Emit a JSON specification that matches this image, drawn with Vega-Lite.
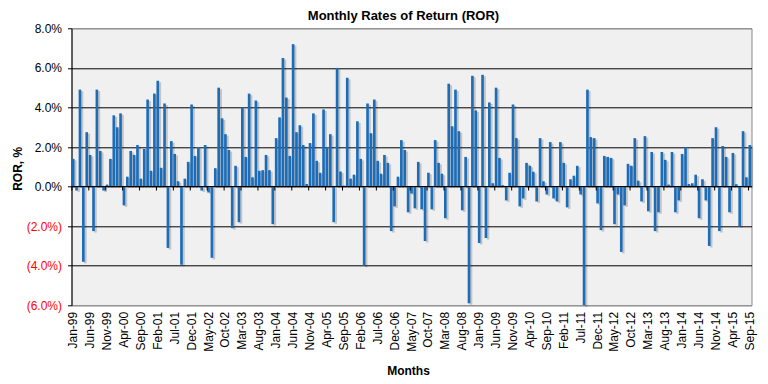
{
  "$schema": "https://vega.github.io/schema/vega-lite/v6.json",
  "width": 680,
  "height": 277,
  "autosize": {"type": "none"},
  "padding": {"left": 71.5, "top": 28.3, "right": 16.5, "bottom": 78.7},
  "background": "white",
  "title": {"text": "Monthly Rates of Return (ROR)", "font": "Liberation Sans", "fontSize": 13, "fontWeight": "bold", "color": "black", "anchor": "middle", "frame": "group", "dx": -8, "dy": 23, "offset": 9, "baseline": "bottom"},
  "config": {"view": {"fill": "#f0f0f0", "stroke": "#8a8a8a"}, "font": "Liberation Sans"},
  "data": {"values": [
    {"m":"Jan-99","i":0,"v":1.4},{"m":"Feb-99","i":1,"v":-0.2},{"m":"Mar-99","i":2,"v":4.9},{"m":"Apr-99","i":3,"v":-3.8},{"m":"May-99","i":4,"v":2.75},
    {"m":"Jun-99","i":5,"v":1.6},{"m":"Jul-99","i":6,"v":-2.25},{"m":"Aug-99","i":7,"v":4.9},{"m":"Sep-99","i":8,"v":1.8},{"m":"Oct-99","i":9,"v":-0.2},
    {"m":"Nov-99","i":10,"v":0.1},{"m":"Dec-99","i":11,"v":1.4},{"m":"Jan-00","i":12,"v":3.6},{"m":"Feb-00","i":13,"v":3.0},{"m":"Mar-00","i":14,"v":3.7},
    {"m":"Apr-00","i":15,"v":-0.95},{"m":"May-00","i":16,"v":0.5},{"m":"Jun-00","i":17,"v":1.8},{"m":"Jul-00","i":18,"v":1.6},{"m":"Aug-00","i":19,"v":2.1},
    {"m":"Sep-00","i":20,"v":0.4},{"m":"Oct-00","i":21,"v":1.9},{"m":"Nov-00","i":22,"v":4.4},{"m":"Dec-00","i":23,"v":0.8},{"m":"Jan-01","i":24,"v":4.7},
    {"m":"Feb-01","i":25,"v":5.35},{"m":"Mar-01","i":26,"v":0.95},{"m":"Apr-01","i":27,"v":4.2},{"m":"May-01","i":28,"v":-3.1},{"m":"Jun-01","i":29,"v":2.3},
    {"m":"Jul-01","i":30,"v":1.65},{"m":"Aug-01","i":31,"v":0.27},{"m":"Sep-01","i":32,"v":-3.95},{"m":"Oct-01","i":33,"v":0.4},{"m":"Nov-01","i":34,"v":1.25},
    {"m":"Dec-01","i":35,"v":4.15},{"m":"Jan-02","i":36,"v":1.55},{"m":"Feb-02","i":37,"v":2.0},{"m":"Mar-02","i":38,"v":-0.2},{"m":"Apr-02","i":39,"v":2.1},
    {"m":"May-02","i":40,"v":-0.3},{"m":"Jun-02","i":41,"v":-3.6},{"m":"Jul-02","i":42,"v":0.93},{"m":"Aug-02","i":43,"v":5.0},{"m":"Sep-02","i":44,"v":3.45},
    {"m":"Oct-02","i":45,"v":2.65},{"m":"Nov-02","i":46,"v":1.85},{"m":"Dec-02","i":47,"v":-2.1},{"m":"Jan-03","i":48,"v":1.05},{"m":"Feb-03","i":49,"v":-1.8},
    {"m":"Mar-03","i":50,"v":4.0},{"m":"Apr-03","i":51,"v":1.5},{"m":"May-03","i":52,"v":4.7},{"m":"Jun-03","i":53,"v":0.47},{"m":"Jul-03","i":54,"v":4.35},
    {"m":"Aug-03","i":55,"v":0.8},{"m":"Sep-03","i":56,"v":0.83},{"m":"Oct-03","i":57,"v":1.6},{"m":"Nov-03","i":58,"v":0.83},{"m":"Dec-03","i":59,"v":-1.9},
    {"m":"Jan-04","i":60,"v":2.45},{"m":"Feb-04","i":61,"v":3.5},{"m":"Mar-04","i":62,"v":6.5},{"m":"Apr-04","i":63,"v":4.5},{"m":"May-04","i":64,"v":1.55},
    {"m":"Jun-04","i":65,"v":7.2},{"m":"Jul-04","i":66,"v":2.75},{"m":"Aug-04","i":67,"v":3.1},{"m":"Sep-04","i":68,"v":2.1},{"m":"Oct-04","i":69,"v":0.13},
    {"m":"Nov-04","i":70,"v":2.2},{"m":"Dec-04","i":71,"v":3.7},{"m":"Jan-05","i":72,"v":1.3},{"m":"Feb-05","i":73,"v":0.7},{"m":"Mar-05","i":74,"v":3.9},
    {"m":"Apr-05","i":75,"v":2.0},{"m":"May-05","i":76,"v":2.65},{"m":"Jun-05","i":77,"v":-1.8},{"m":"Jul-05","i":78,"v":6.0},{"m":"Aug-05","i":79,"v":0.76},
    {"m":"Sep-05","i":80,"v":0.05},{"m":"Oct-05","i":81,"v":5.5},{"m":"Nov-05","i":82,"v":0.4},{"m":"Dec-05","i":83,"v":0.6},{"m":"Jan-06","i":84,"v":3.3},
    {"m":"Feb-06","i":85,"v":1.4},{"m":"Mar-06","i":86,"v":-4.0},{"m":"Apr-06","i":87,"v":4.2},{"m":"May-06","i":88,"v":2.7},{"m":"Jun-06","i":89,"v":4.4},
    {"m":"Jul-06","i":90,"v":1.3},{"m":"Aug-06","i":91,"v":0.65},{"m":"Sep-06","i":92,"v":1.6},{"m":"Oct-06","i":93,"v":1.2},{"m":"Nov-06","i":94,"v":-2.25},
    {"m":"Dec-06","i":95,"v":-1.0},{"m":"Jan-07","i":96,"v":0.5},{"m":"Feb-07","i":97,"v":2.35},{"m":"Mar-07","i":98,"v":1.85},{"m":"Apr-07","i":99,"v":-1.3},
    {"m":"May-07","i":100,"v":-0.35},{"m":"Jun-07","i":101,"v":-1.1},{"m":"Jul-07","i":102,"v":1.25},{"m":"Aug-07","i":103,"v":-1.15},{"m":"Sep-07","i":104,"v":-2.75},
    {"m":"Oct-07","i":105,"v":0.7},{"m":"Nov-07","i":106,"v":-1.15},{"m":"Dec-07","i":107,"v":2.35},{"m":"Jan-08","i":108,"v":1.2},{"m":"Feb-08","i":109,"v":0.65},
    {"m":"Mar-08","i":110,"v":-1.6},{"m":"Apr-08","i":111,"v":5.2},{"m":"May-08","i":112,"v":3.05},{"m":"Jun-08","i":113,"v":4.9},{"m":"Jul-08","i":114,"v":2.8},
    {"m":"Aug-08","i":115,"v":-1.2},{"m":"Sep-08","i":116,"v":1.5},{"m":"Oct-08","i":117,"v":-5.9},{"m":"Nov-08","i":118,"v":5.6},{"m":"Dec-08","i":119,"v":3.85},
    {"m":"Jan-09","i":120,"v":-2.85},{"m":"Feb-09","i":121,"v":5.65},{"m":"Mar-09","i":122,"v":-2.6},{"m":"Apr-09","i":123,"v":4.25},{"m":"May-09","i":124,"v":0.17},
    {"m":"Jun-09","i":125,"v":5.0},{"m":"Jul-09","i":126,"v":1.45},{"m":"Aug-09","i":127,"v":0.07},{"m":"Sep-09","i":128,"v":-0.7},{"m":"Oct-09","i":129,"v":0.7},
    {"m":"Nov-09","i":130,"v":4.15},{"m":"Dec-09","i":131,"v":2.45},{"m":"Jan-10","i":132,"v":-1.0},{"m":"Feb-10","i":133,"v":-0.6},{"m":"Mar-10","i":134,"v":1.2},
    {"m":"Apr-10","i":135,"v":1.05},{"m":"May-10","i":136,"v":0.75},{"m":"Jun-10","i":137,"v":-0.75},{"m":"Jul-10","i":138,"v":2.45},{"m":"Aug-10","i":139,"v":0.27},
    {"m":"Sep-10","i":140,"v":-0.4},{"m":"Oct-10","i":141,"v":2.25},{"m":"Nov-10","i":142,"v":-0.6},{"m":"Dec-10","i":143,"v":-0.75},{"m":"Jan-11","i":144,"v":2.25},
    {"m":"Feb-11","i":145,"v":1.2},{"m":"Mar-11","i":146,"v":-1.05},{"m":"Apr-11","i":147,"v":0.37},{"m":"May-11","i":148,"v":0.55},{"m":"Jun-11","i":149,"v":1.05},
    {"m":"Jul-11","i":150,"v":-0.4},{"m":"Aug-11","i":151,"v":-6.0},{"m":"Sep-11","i":152,"v":4.9},{"m":"Oct-11","i":153,"v":2.5},{"m":"Nov-11","i":154,"v":2.45},
    {"m":"Dec-11","i":155,"v":-0.85},{"m":"Jan-12","i":156,"v":-2.2},{"m":"Feb-12","i":157,"v":1.55},{"m":"Mar-12","i":158,"v":1.5},{"m":"Apr-12","i":159,"v":1.45},
    {"m":"May-12","i":160,"v":-1.9},{"m":"Jun-12","i":161,"v":-0.4},{"m":"Jul-12","i":162,"v":-3.3},{"m":"Aug-12","i":163,"v":-0.95},{"m":"Sep-12","i":164,"v":1.15},
    {"m":"Oct-12","i":165,"v":1.05},{"m":"Nov-12","i":166,"v":2.45},{"m":"Dec-12","i":167,"v":0.3},{"m":"Jan-13","i":168,"v":-0.75},{"m":"Feb-13","i":169,"v":2.55},
    {"m":"Mar-13","i":170,"v":-1.25},{"m":"Apr-13","i":171,"v":1.75},{"m":"May-13","i":172,"v":-2.25},{"m":"Jun-13","i":173,"v":-1.3},{"m":"Jul-13","i":174,"v":1.75},
    {"m":"Aug-13","i":175,"v":1.35},{"m":"Sep-13","i":176,"v":0.1},{"m":"Oct-13","i":177,"v":1.75},{"m":"Nov-13","i":178,"v":-1.3},{"m":"Dec-13","i":179,"v":-0.7},
    {"m":"Jan-14","i":180,"v":1.65},{"m":"Feb-14","i":181,"v":2.0},{"m":"Mar-14","i":182,"v":0.13},{"m":"Apr-14","i":183,"v":0.17},{"m":"May-14","i":184,"v":0.6},
    {"m":"Jun-14","i":185,"v":-1.6},{"m":"Jul-14","i":186,"v":0.37},{"m":"Aug-14","i":187,"v":-0.7},{"m":"Sep-14","i":188,"v":-3.0},{"m":"Oct-14","i":189,"v":2.45},
    {"m":"Nov-14","i":190,"v":3.0},{"m":"Dec-14","i":191,"v":-2.25},{"m":"Jan-15","i":192,"v":2.05},{"m":"Feb-15","i":193,"v":1.5},{"m":"Mar-15","i":194,"v":-1.3},
    {"m":"Apr-15","i":195,"v":1.7},{"m":"May-15","i":196,"v":0.12},{"m":"Jun-15","i":197,"v":-2.0},{"m":"Jul-15","i":198,"v":2.8},{"m":"Aug-15","i":199,"v":0.47},
    {"m":"Sep-15","i":200,"v":2.1}
  ]},
  "layer": [
    {
      "mark": {"type": "bar", "color": "#000000", "opacity": 0.18, "xOffset": 2, "yOffset": 1.5},
      "encoding": {
        "x": {"field": "m", "type": "nominal", "sort": null, "scale": {"paddingInner": 0.22, "paddingOuter": 0.11},
          "axis": {"values": ["Jan-99","Jun-99","Nov-99","Apr-00","Sep-00","Feb-01","Jul-01","Dec-01","May-02","Oct-02","Mar-03","Aug-03","Jan-04","Jun-04","Nov-04","Apr-05","Sep-05","Feb-06","Jul-06","Dec-06","May-07","Oct-07","Mar-08","Aug-08","Jan-09","Jun-09","Nov-09","Apr-10","Sep-10","Feb-11","Jul-11","Dec-11","May-12","Oct-12","Mar-13","Aug-13","Jan-14","Jun-14","Nov-14","Apr-15","Sep-15"],
            "labelAngle": -90, "labelAlign": "right", "labelBaseline": "middle", "labelFont": "Liberation Sans", "labelFontSize": 12, "labelColor": "black", "labelPadding": 6, "labelOverlap": false,
            "ticks": false, "domain": false, "grid": false,
            "title": "Months", "titleFont": "Liberation Sans", "titleFontSize": 12, "titleFontWeight": "bold", "titleColor": "black", "titleX": 336.5, "titleY": 65, "titleBaseline": "middle", "titleAlign": "center"}},
        "y": {"field": "v", "type": "quantitative", "scale": {"domain": [-6, 8], "nice": false},
          "axis": {"values": [-6, -4, -2, 0, 2, 4, 6, 8], "tickCount": 8,
            "labelExpr": "datum.value < 0 ? '(' + format(-datum.value, '.1f') + '%)' : format(datum.value, '.1f') + '%'",
            "labelColor": {"condition": {"test": "datum.value < 0", "value": "#ff0000"}, "value": "black"},
            "labelFont": "Liberation Sans", "labelFontSize": 12, "labelPadding": 6, "labelOverlap": false, "labelFlush": false,
            "tickSize": 4, "tickColor": "black", "domainColor": "black",
            "grid": true, "gridWidth": 1,
            "gridColor": {"condition": {"test": "datum.value == 8 || datum.value == -6", "value": "#8a8a8a"}, "value": "black"},
            "title": "ROR, %", "titleFont": "Liberation Sans", "titleFontSize": 12, "titleFontWeight": "bold", "titleColor": "black",
            "titleAngle": -90, "titleX": -54.5, "titleY": 140, "titleBaseline": "middle", "titleAlign": "center"}}
      }
    },
    {
      "mark": {"type": "bar", "color": "#1c6cb8"},
      "encoding": {
        "x": {"field": "m", "type": "nominal", "sort": null},
        "y": {"field": "v", "type": "quantitative"}
      }
    },
    {
      "data": {"values": [{"z": 0}]},
      "mark": {"type": "rule", "color": "black", "strokeWidth": 1},
      "encoding": {"y": {"field": "z", "type": "quantitative"}}
    },
    {
      "mark": {"type": "tick", "orient": "vertical", "color": "black", "size": 4, "thickness": 1, "yOffset": 2},
      "encoding": {
        "x": {"field": "m", "type": "nominal", "sort": null, "bandPosition": 0},
        "y": {"datum": 0},
        "opacity": {"condition": {"test": "datum.i % 5 == 0", "value": 1}, "value": 0}
      }
    }
  ]
}
